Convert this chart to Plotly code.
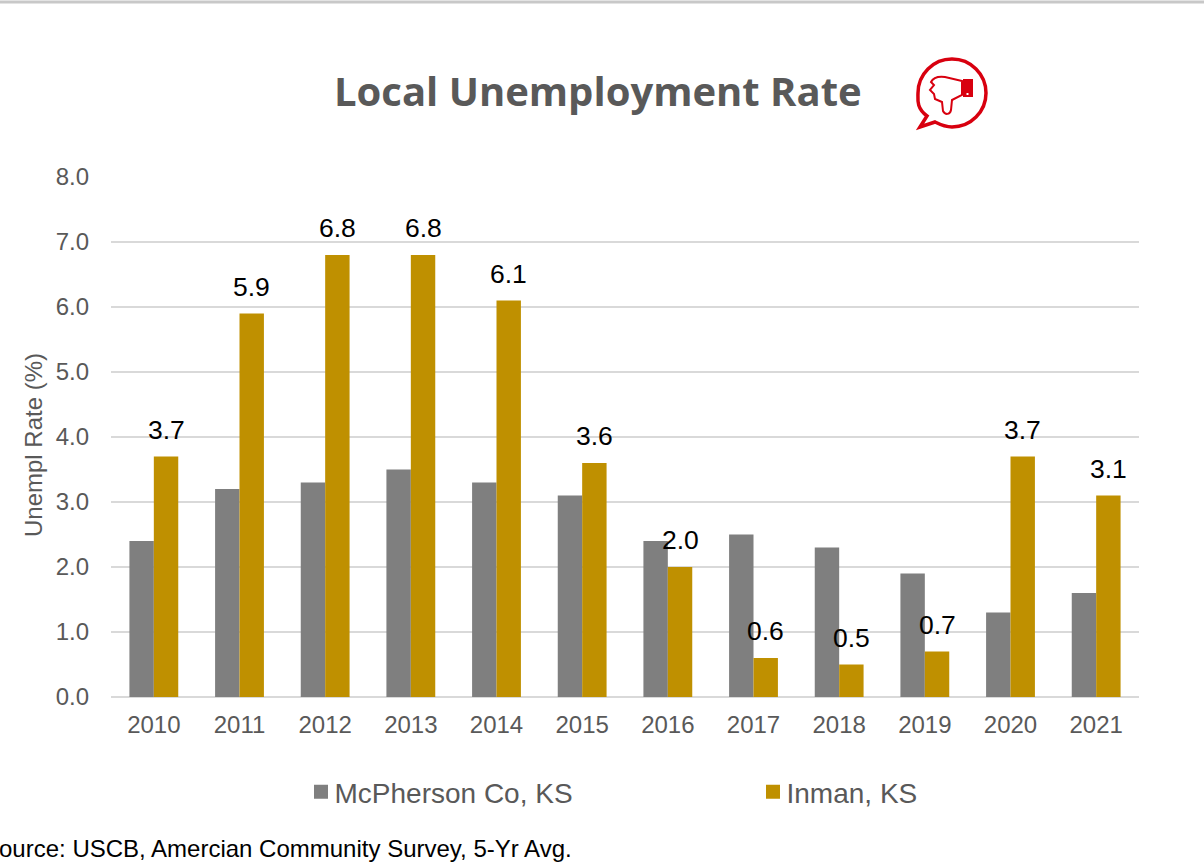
import plotly.graph_objects as go

W, H = 1204, 868
PL, PR, PT, PB = 111, 1139, 177, 697
years = ["2010","2011","2012","2013","2014","2015","2016","2017","2018","2019","2020","2021"]
mcpherson = [2.4, 3.2, 3.3, 3.5, 3.3, 3.1, 2.4, 2.5, 2.3, 1.9, 1.3, 1.6]
inman = [3.7, 5.9, 6.8, 6.8, 6.1, 3.6, 2.0, 0.6, 0.5, 0.7, 3.7, 3.1]
y_ticks = [0, 1, 2, 3, 4, 5, 6, 7, 8]

GRAY, GOLD, TXT, GRID, RED = "#7f7f7f", "#bf9000", "#595959", "#d9d9d9", "#d8000f"
SANS = "Liberation Sans, Arial, sans-serif"


def fx(x):
    return (x - PL) / (PR - PL)


def fy(y):
    return (PB - y) / (PB - PT)


fig = go.Figure()
fig.add_bar(name="McPherson Co, KS", x=years, y=mcpherson, marker_color=GRAY, marker_line_width=0)
fig.add_bar(name="Inman, KS", x=years, y=inman, marker_color=GOLD, marker_line_width=0)

annotations = [
    dict(x=i, y=v, xref="x", yref="y", text=f"{v:.1f}", showarrow=False, xshift=12.25, yshift=10,
         yanchor="bottom", font=dict(family=SANS, size=26.5, color="#000000"))
    for i, v in enumerate(inman)
]
annotations += [
    dict(x=fx(597.5), y=fy(91), xref="paper", yref="paper", text="<b>Local Unemployment Rate</b>",
         showarrow=False, xanchor="center", yanchor="middle",
         font=dict(family="Open Sans", size=40, color=TXT)),
    dict(x=fx(574), y=fy(848.5), xref="paper", yref="paper",
         text="Source: USCB, Amercian Community Survey, 5-Yr Avg.", showarrow=False,
         xanchor="right", yanchor="middle", font=dict(family=SANS, size=24, color="#000000")),
]


def P(x, y):
    return f"{fx(x):.5f},{fy(y):.5f}"


def path(*cmds):
    return " ".join(c if isinstance(c, str) else P(*c) for c in cmds)


cx, cy, r, k = 952, 93, 34, 0.5523 * 34
bubble = path("M", (920, 127), "L", (927, 116),
              "C", (cx - r - 2, cy + 15), (cx - r, cy + 6), (cx - r, cy),
              "C", (cx - r, cy - k), (cx - k, cy - r), (cx, cy - r),
              "C", (cx + k, cy - r), (cx + r, cy - k), (cx + r, cy),
              "C", (cx + r, cy + k), (cx + k, cy + r), (cx, cy + r),
              "C", (cx - 7, cy + r), (cx - 13, cy + r - 3), (cx - 17, cy + r - 5),
              "Z")
hand = path("M", (962, 81), "L", (945, 77), "C", (937, 76), (933, 78), (931, 82),
            "L", (934, 85), "L", (930, 90), "L", (934, 94), "L", (935, 99),
            "L", (942, 102), "L", (943, 111), "C", (945, 115), (950, 115), (951, 110),
            "L", (952, 100), "L", (962, 95), "Z")
cuff = path("M", (963, 79), "L", (973, 79), "L", (973, 97), "L", (963, 97), "Z")
cuff_dot = path("M", (966.5, 93), "L", (968.5, 93), "L", (968.5, 95), "L", (966.5, 95), "Z")

shapes = [
    dict(type="line", xref="paper", yref="paper", x0=fx(0), x1=fx(W), y0=fy(2), y1=fy(2),
         line=dict(color="#c8c8c8", width=3)),
    dict(type="path", xref="paper", yref="paper", path=bubble, line=dict(color=RED, width=3.5),
         fillcolor="rgba(0,0,0,0)"),
    dict(type="path", xref="paper", yref="paper", path=hand, line=dict(color=RED, width=2),
         fillcolor="rgba(0,0,0,0)"),
    dict(type="path", xref="paper", yref="paper", path=cuff, line=dict(width=0), fillcolor=RED),
    dict(type="path", xref="paper", yref="paper", path=cuff_dot, line=dict(width=0), fillcolor="#ffffff"),
]

fig.update_layout(
    width=W, height=H, autosize=False,
    paper_bgcolor="#ffffff", plot_bgcolor="#ffffff",
    margin=dict(l=PL, r=W - PR, t=PT, b=H - PB, autoexpand=False),
    barmode="group", bargap=0.43, bargroupgap=0,
    xaxis=dict(type="category", range=[-0.5, 11.5], tickfont=dict(family=SANS, size=24, color=TXT), ticks="",
               ticklabelstandoff=11, showgrid=False, showline=False, zeroline=False, automargin=False),
    yaxis=dict(range=[0, 8], tickvals=y_ticks, ticktext=[f"{t:.1f}" for t in y_ticks],
               tickfont=dict(family=SANS, size=24, color=TXT), ticks="", ticklabelstandoff=21,
               showgrid=True, gridcolor=GRID, gridwidth=1.5, zeroline=True, zerolinecolor=GRID,
               zerolinewidth=1.5, showline=False, automargin=False,
               title=dict(text="Unempl Rate (%)", font=dict(family=SANS, size=24, color=TXT), standoff=8)),
    legend=dict(orientation="h", x=fx(294.5), xanchor="left", y=fy(792), yanchor="middle",
                font=dict(family=SANS, size=28, color=TXT), entrywidth=407, entrywidthmode="pixels",
                bgcolor="rgba(0,0,0,0)", borderwidth=0),
    annotations=annotations,
    shapes=shapes,
    showlegend=True,
)

POST = """
document.body.style.margin='0';
document.querySelectorAll('.legendsymbols').forEach(function(g){g.setAttribute('transform','translate(6.5,0)');});
document.querySelectorAll('.legendbar path, .legendpoints path').forEach(function(p){p.setAttribute('d','M7,7H-7V-7H7Z');});
document.querySelectorAll('.ytitle').forEach(function(t){t.setAttribute('transform','translate(2,8) '+(t.getAttribute('transform')||''));});
"""
fig.write_html("out.html", post_script=POST, config=dict(displayModeBar=False))
